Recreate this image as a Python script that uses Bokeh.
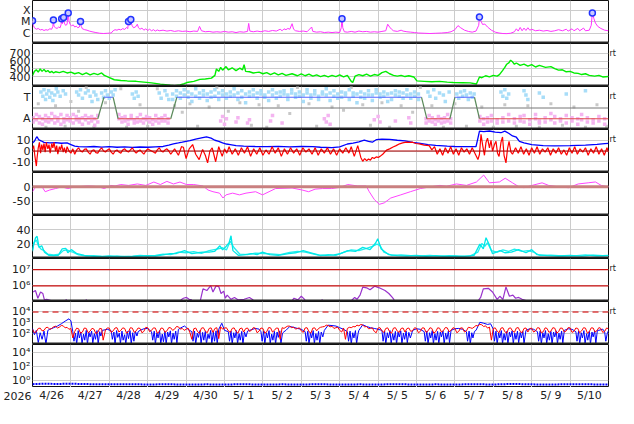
import math
from bokeh.plotting import figure
from bokeh.layouts import column
from bokeh.models import FixedTicker, Span, Range1d, LinearAxis
from bokeh.core.properties import value
from bokeh.embed import file_html
from bokeh.resources import INLINE

nan = float("nan")

DAY_LABELS = ["4/26", "4/27", "4/28", "4/29", "4/30", "5/ 1", "5/ 2", "5/ 3",
              "5/ 4", "5/ 5", "5/ 6", "5/ 7", "5/ 8", "5/ 9", "5/10"]
YEAR_LABEL = "2026"

# ---- panel 1: X-ray flux (day, W/m2) ----
XRAY = [(0.00, 1.3e-5), (0.02, 5e-6), (0.05, 3.0e-6), (0.10, 2.2e-6), (0.15, 2.6e-6), (0.20, 1.9e-6),
        (0.25, 2.1e-6), (0.30, 1.7e-6), (0.35, 2.0e-6), (0.40, 1.8e-6), (0.45, 2.4e-6), (0.50, 2.2e-6),
        (0.53, 4e-6), (0.545, 1.55e-5), (0.56, 4e-6), (0.60, 3.0e-6), (0.64, 2.6e-6), (0.68, 3.5e-6),
        (0.72, 3.0e-6), (0.745, 6e-6), (0.76, 2.0e-5), (0.78, 7e-6), (0.81, 2.5e-5), (0.83, 8e-6),
        (0.86, 5e-6), (0.90, 6e-6), (0.93, 6.7e-5), (0.95, 1.2e-5), (0.98, 6e-6), (1.02, 4.5e-6),
        (1.06, 5.5e-6), (1.10, 3.5e-6), (1.14, 4.2e-6), (1.18, 3.0e-6), (1.22, 3.5e-6), (1.25, 1.1e-5),
        (1.27, 4e-6), (1.30, 2.4e-6), (1.36, 2.0e-6), (1.42, 1.8e-6), (1.48, 1.5e-6), (1.55, 1.3e-6),
        (1.65, 1.1e-6), (1.75, 0.95e-6), (1.85, 0.9e-6), (1.95, 0.95e-6), (2.05, 1.0e-6), (2.10, 1.6e-6),
        (2.15, 2.0e-6), (2.2, 1.8e-6), (2.25, 2.2e-6), (2.3, 1.9e-6), (2.35, 2.5e-6), (2.40, 2.1e-6),
        (2.45, 3.2e-6), (2.48, 2.5e-6), (2.50, 1.1e-5), (2.53, 5e-6), (2.56, 1.65e-5), (2.59, 5e-6),
        (2.63, 3e-6), (2.68, 3.5e-6), (2.73, 6.3e-6), (2.76, 3e-6), (2.80, 2.2e-6), (2.85, 2.8e-6),
        (2.9, 1.8e-6), (2.95, 2.4e-6), (3.0, 1.7e-6), (3.05, 2.2e-6), (3.1, 1.6e-6), (3.15, 2.0e-6),
        (3.2, 1.5e-6), (3.25, 1.9e-6), (3.3, 1.6e-6), (3.4, 1.8e-6), (3.5, 1.5e-6), (3.6, 1.7e-6),
        (3.7, 1.4e-6), (3.8, 1.6e-6), (3.9, 1.4e-6), (4.0, 1.5e-6), (4.1, 1.3e-6), (4.2, 1.5e-6),
        (4.3, 1.4e-6), (4.35, 4.0e-6), (4.40, 1.6e-6), (4.5, 1.3e-6), (4.6, 1.4e-6), (4.7, 1.2e-6),
        (4.8, 1.3e-6), (4.9, 1.2e-6), (5.0, 1.4e-6), (5.1, 1.2e-6), (5.2, 1.3e-6), (5.3, 1.1e-6),
        (5.4, 1.3e-6), (5.5, 1.2e-6), (5.6, 1.4e-6), (5.63, 7.4e-6), (5.66, 1.5e-6), (5.75, 1.3e-6),
        (5.85, 1.5e-6), (5.95, 1.3e-6), (6.05, 1.6e-6), (6.15, 1.4e-6), (6.25, 1.7e-6), (6.35, 1.5e-6),
        (6.45, 2.2e-6), (6.5, 1.6e-6), (6.55, 2.4e-6), (6.6, 2.0e-6), (6.65, 2.6e-6), (6.7, 2.2e-6),
        (6.76, 7e-6), (6.8, 2.2e-6), (6.85, 1.6e-6), (6.95, 1.4e-6), (7.05, 1.5e-6), (7.15, 1.3e-6),
        (7.27, 3.5e-6), (7.3, 1.4e-6), (7.4, 1.2e-6), (7.5, 1.3e-6), (7.6, 1.1e-6), (7.7, 1.2e-6),
        (7.8, 1.1e-6), (7.9, 1.2e-6), (8.0, 1.1e-6), (8.04, 3e-6), (8.06, 2.0e-5), (8.08, 3e-6),
        (8.12, 1.3e-6), (8.2, 1.2e-6), (8.3, 1.4e-6), (8.4, 1.2e-6), (8.5, 1.5e-6), (8.6, 1.3e-6),
        (8.7, 1.4e-6), (8.8, 1.2e-6), (8.9, 1.3e-6), (9.0, 1.2e-6), (9.1, 1.4e-6), (9.2, 1.6e-6),
        (9.25, 6.3e-6), (9.3, 3.5e-6), (9.35, 2.2e-6), (9.4, 1.6e-6), (9.5, 1.4e-6), (9.6, 1.8e-6),
        (9.65, 1.5e-6), (9.75, 1.3e-6), (9.85, 1.2e-6), (9.95, 1.1e-6), (10.05, 1.0e-6), (10.2, 0.95e-6),
        (10.35, 0.9e-6), (10.5, 0.95e-6), (10.65, 1.0e-6), (10.8, 1.1e-6), (10.9, 1.3e-6), (11.0, 2.0e-6),
        (11.08, 4.7e-6), (11.15, 3.0e-6), (11.25, 1.8e-6), (11.35, 1.4e-6), (11.45, 1.2e-6), (11.55, 1.5e-6),
        (11.62, 5e-6), (11.64, 2.8e-5), (11.68, 1.2e-5), (11.72, 6e-6), (11.78, 6.5e-6), (11.85, 3.5e-6),
        (11.95, 1.8e-6), (12.05, 1.2e-6), (12.15, 1.0e-6), (12.25, 0.9e-6), (12.35, 0.88e-6), (12.45, 0.95e-6),
        (12.55, 1.3e-6), (12.6, 2.4e-6), (12.65, 1.5e-6), (12.7, 3.2e-6), (12.75, 1.6e-6), (12.8, 2.8e-6),
        (12.85, 1.7e-6), (12.9, 3.0e-6), (12.95, 1.8e-6), (13.0, 2.2e-6), (13.1, 1.6e-6), (13.2, 1.8e-6),
        (13.3, 1.5e-6), (13.4, 1.7e-6), (13.5, 1.4e-6), (13.6, 1.6e-6), (13.7, 2.0e-6), (13.8, 1.6e-6),
        (13.9, 2.2e-6), (13.95, 1.5e-6), (14.05, 2.4e-6), (14.1, 1.6e-6), (14.2, 2.6e-6), (14.25, 1.6e-6),
        (14.35, 2.8e-6), (14.4, 1.6e-6), (14.5, 1.8e-6), (14.55, 5e-6), (14.58, 6.7e-5), (14.62, 2.0e-5),
        (14.66, 8e-6), (14.72, 4e-6), (14.8, 2.6e-6), (14.9, 1.8e-6), (15.0, 1.6e-6)]
FLARES = [(0.0, 1.3e-5), (0.545, 1.55e-5), (0.76, 2.0e-5), (0.81, 2.5e-5), (0.93, 6.7e-5),
          (1.25, 1.1e-5), (2.50, 1.1e-5), (2.56, 1.65e-5), (8.06, 2.0e-5), (11.64, 2.8e-5), (14.58, 6.7e-5)]

# ---- panel 2: solar wind speed (km/s) ----
WIND = [(0.0, 420), (0.05, 470), (0.1, 490), (0.15, 460), (0.2, 500), (0.25, 470), (0.3, 495), (0.35, 465),
        (0.4, 480), (0.45, 455), (0.5, 470), (0.55, 450), (0.6, 465), (0.7, 455), (0.8, 470), (0.9, 450),
        (1.0, 460), (1.1, 440), (1.2, 455), (1.3, 430), (1.4, 450), (1.5, 425), (1.6, 445), (1.7, 430),
        (1.8, 450), (1.87, 420), (1.96, 400), (2.13, 365), (2.3, 355), (2.47, 350), (2.7, 345), (2.9, 335),
        (3.1, 325), (3.33, 310), (3.59, 295), (3.7, 290), (3.84, 300), (3.95, 315), (4.02, 330), (4.2, 345),
        (4.36, 370), (4.5, 375), (4.66, 385), (4.75, 420), (4.79, 500), (4.85, 470), (4.9, 520), (4.95, 485),
        (5.04, 530), (5.1, 490), (5.2, 515), (5.3, 480), (5.4, 510), (5.47, 490), (5.51, 555), (5.55, 470),
        (5.65, 465), (5.75, 450), (5.9, 460), (6.0, 440), (6.1, 455), (6.2, 430), (6.3, 450), (6.4, 425),
        (6.5, 445), (6.6, 420), (6.76, 440), (6.9, 415), (7.0, 440), (7.1, 415), (7.2, 435), (7.3, 410),
        (7.4, 425), (7.5, 405), (7.6, 420), (7.7, 400), (7.8, 420), (7.9, 405), (8.0, 425), (8.1, 400),
        (8.2, 420), (8.3, 345), (8.34, 330), (8.4, 410), (8.5, 430), (8.6, 415), (8.7, 435), (8.8, 410),
        (8.9, 430), (9.0, 420), (9.1, 455), (9.2, 470), (9.3, 440), (9.4, 420), (9.5, 410), (9.6, 420),
        (9.7, 405), (9.8, 415), (9.93, 400), (10.01, 350), (10.2, 345), (10.4, 340), (10.6, 345), (10.8, 335),
        (10.96, 330), (11.2, 328), (11.4, 325), (11.56, 312), (11.64, 400), (11.7, 390), (11.8, 415),
        (11.9, 400), (12.0, 420), (12.1, 410), (12.16, 430), (12.24, 480), (12.3, 520), (12.35, 560),
        (12.41, 580), (12.45, 610), (12.5, 590), (12.55, 560), (12.6, 575), (12.7, 545), (12.8, 560),
        (12.9, 535), (13.0, 555), (13.1, 525), (13.2, 545), (13.36, 520), (13.5, 530), (13.6, 505),
        (13.7, 485), (13.8, 490), (13.9, 465), (14.0, 470), (14.1, 450), (14.21, 445), (14.3, 430),
        (14.4, 440), (14.5, 420), (14.64, 410), (14.75, 420), (14.85, 400), (15.0, 405)]

# ---- panel 3: IMF sector (T = +1, A = -1) ----
SECTOR_T = [0.0, 1.70, 1.86, 2.10, 2.23, 3.60, 3.76, 10.13, 10.27, 10.87, 11.0, 11.51, 11.64, 15.0]
SECTOR_V = [-1, -1, 1, 1, -1, -1, 1, 1, -1, -1, 1, 1, -1, -1]
SKY_SPARSE = [(0.22, 1.5), (0.27, 1.1), (0.3, 1.7), (0.34, 0.8), (0.37, 1.3), (0.42, 1.6), (0.45, 1.0),
              (0.5, 1.4), (0.53, 0.7), (0.58, 1.2), (0.62, 1.8), (0.66, 1.5), (0.72, 1.1), (0.8, 1.6),
              (0.86, 1.3), (1.15, 1.5), (1.2, 1.2), (1.25, 1.7), (1.3, 0.9), (1.38, 1.4), (1.45, 1.6),
              (1.5, 1.1), (1.55, 0.6), (1.6, 1.5), (1.65, 1.2), (1.7, 0.8), (1.8, 1.4), (1.85, 1.0),
              (1.9, 1.6), (1.95, 1.2), (2.0, 0.9), (2.05, 1.5), (2.1, 1.2), (2.15, 1.7), (2.6, 1.3),
              (2.65, 0.9), (2.7, 1.5), (2.75, 1.1), (3.3, 1.4), (3.35, 0.9), (3.45, 1.6), (3.5, 1.2),
              (3.55, 0.8), (10.3, 1.5), (10.35, 1.1), (10.45, 1.7), (10.5, 0.9), (10.6, 1.4), (10.7, 1.2),
              (10.75, 0.6), (10.85, 1.5), (11.05, 1.3), (11.1, 0.9), (11.15, 1.5), (11.2, 1.1), (11.25, 1.6),
              (11.3, 1.2), (11.35, 0.8), (11.4, 1.4), (11.45, 1.0), (11.5, 1.3), (12.2, 1.5), (12.25, 1.1),
              (12.3, 1.7), (12.35, 0.9), (12.4, 1.3), (12.8, 1.6), (12.85, 1.2), (12.9, 0.8), (13.2, 1.4),
              (13.3, 1.0), (13.9, 1.3), (14.4, 1.6)]
SKY_DENSE = [(3.65, 1.3, 0.8), (3.75, 1.6, 1.1), (3.85, 0.9, 1.4), (3.95, 1.7, 1.2), (4.05, 1.0, 1.5),
             (4.15, 1.3, 0.6), (4.25, 1.8, 1.1), (4.35, 1.4, 0.9), (4.45, 1.2, 1.6), (4.55, 0.7, 1.3),
             (4.65, 1.5, 1.0), (4.75, 1.1, 1.7), (4.85, 1.4, 0.8), (4.95, 1.6, 1.2), (5.05, 0.9, 1.3),
             (5.15, 1.5, 1.1), (5.25, 1.2, 1.8), (5.35, 0.8, 1.4), (5.45, 1.6, 1.0), (5.55, 1.3, 0.5),
             (5.65, 1.1, 1.5), (5.75, 1.7, 1.2), (5.85, 0.9, 1.4), (5.95, 1.3, 1.6), (6.05, 1.0, 1.2),
             (6.15, 1.5, 0.7), (6.25, 1.2, 1.7), (6.35, 1.4, 0.9), (6.45, 1.1, 1.5), (6.55, 1.6, 1.3),
             (6.65, 0.8, 1.2), (6.75, 1.4, 1.7), (6.85, 1.0, 1.3), (6.95, 1.5, 1.1), (7.05, 1.2, 0.6),
             (7.15, 1.7, 1.4), (7.25, 0.9, 1.2), (7.35, 1.3, 1.6), (7.45, 1.1, 0.8), (7.55, 1.5, 1.3),
             (7.65, 1.2, 1.8), (7.75, 0.7, 1.4), (7.85, 1.6, 1.1), (7.95, 1.3, 0.9), (8.05, 1.0, 1.5),
             (8.15, 1.4, 1.2), (8.25, 1.7, 0.8), (8.35, 1.1, 1.4), (8.45, 1.3, 0.5), (8.55, 1.5, 1.0),
             (8.65, 0.9, 1.3), (8.75, 1.6, 1.2), (8.85, 1.2, 0.7), (8.95, 1.4, 1.7), (9.05, 1.0, 1.3),
             (9.15, 1.5, 1.1), (9.25, 1.3, 0.6), (9.35, 0.8, 1.4), (9.45, 1.6, 1.2), (9.55, 1.1, 1.5),
             (9.65, 1.4, 0.9), (9.75, 1.2, 1.7), (9.85, 0.9, 1.3), (9.95, 1.5, 1.1), (10.05, 1.3, 0.8)]
PINK_SPARSE = [(4.9, -1.2), (4.95, -0.8), (5.0, -1.5), (5.05, -1.0), (5.3, -1.3), (5.35, -0.9), (5.6, -1.4),
               (5.65, -1.1), (6.2, -1.2), (6.25, -0.7), (6.5, -1.4), (7.6, -1.0), (7.65, -1.3), (7.7, -0.7),
               (7.75, -1.5), (8.9, -1.1), (9.0, -0.8), (9.05, -1.3), (9.45, -1.2), (9.8, -0.9), (9.85, -1.4)]
PINK_DENSE = [(0.02, -0.9, -1.3), (0.1, -0.6, -1.1), (0.18, -1.4, -0.8), (0.26, -1.0, -1.5), (0.34, -0.7, -1.2),
              (0.42, -1.3, -0.9), (0.5, -1.1, -0.5), (0.58, -1.4, -0.8), (0.66, -0.9, -1.2), (0.74, -1.5, -0.6),
              (0.82, -1.0, -1.3), (0.9, -0.7, -1.1), (0.98, -1.2, -0.9), (1.06, -1.4, -0.6), (1.14, -0.8, -1.1),
              (1.22, -1.3, -1.0), (1.3, -0.9, -1.5), (1.38, -1.1, -0.7), (1.46, -1.4, -0.9), (1.54, -0.8, -1.2),
              (1.62, -1.0, -1.6), (1.7, -1.3, -0.7), (2.25, -1.0, -0.6), (2.33, -1.3, -0.9), (2.41, -0.8, -1.2),
              (2.49, -1.1, -1.5), (2.57, -0.7, -1.0), (2.65, -1.4, -1.1), (2.73, -0.9, -1.3), (2.81, -1.2, -0.6),
              (2.89, -1.0, -1.4), (2.97, -0.8, -1.1), (3.05, -1.3, -0.9), (3.13, -1.1, -1.5), (3.21, -0.7, -1.2),
              (3.29, -1.4, -1.0), (3.37, -0.9, -1.2), (3.45, -1.2, -0.7), (3.53, -1.0, -1.4),
              (10.25, -1.0, -1.4), (10.33, -0.7, -1.2), (10.41, -1.3, -0.9), (10.49, -1.1, -1.5),
              (10.57, -0.8, -1.2), (10.65, -1.4, -1.0), (10.73, -0.9, -1.3), (10.81, -1.2, -0.6),
              (10.89, -1.0, -1.4), (11.65, -1.2, -0.8), (11.75, -1.0, -1.5), (11.85, -1.3, -0.9),
              (11.95, -0.7, -1.2), (12.1, -1.1, -1.4), (12.25, -0.9, -1.3), (12.4, -1.2, -0.6),
              (12.55, -1.0, -1.4), (12.7, -0.8, -1.2), (12.8, -1.3, -0.7), (12.95, -1.1, -1.5),
              (13.1, -0.6, -1.0), (13.2, -1.2, -1.4), (13.35, -0.9, -1.3), (13.5, -1.1, -0.5),
              (13.6, -1.4, -0.8), (13.75, -1.0, -1.2), (13.9, -0.7, -1.4), (14.05, -1.2, -0.9),
              (14.2, -1.0, -1.5), (14.3, -0.6, -1.1), (14.45, -1.3, -0.9), (14.6, -1.1, -1.4),
              (14.75, -0.8, -1.2), (14.9, -1.0, -1.5)]
GREY_DOTS = [(0.15, 0.4), (0.35, -1.8), (0.6, 0.2), (0.85, -1.7), (1.0, 0.6), (1.2, -0.3), (1.4, 1.9),
             (1.6, -1.8), (1.9, 0.5), (2.3, 1.8), (2.45, -1.8), (2.8, 0.3), (3.0, -1.7), (3.25, 1.8),
             (3.7, 0.2), (3.9, -0.4), (4.1, 0.4), (4.3, -1.7), (4.6, 0.1), (4.8, 1.9), (5.1, -0.3),
             (5.4, 0.5), (5.7, -1.6), (5.9, 0.3), (6.1, -1.8), (6.4, 0.2), (6.7, -0.5), (6.9, 1.9),
             (7.2, 0.4), (7.4, -1.7), (7.8, 0.1), (8.1, -0.2), (8.3, 1.9), (8.6, 0.3), (8.8, -1.6),
             (9.1, 0.5), (9.3, -1.8), (9.6, 0.2), (9.9, -0.4), (10.1, 1.9), (10.4, 0.2), (10.7, -1.8),
             (11.0, 0.4), (11.3, -1.7), (11.7, 0.1), (12.0, -1.8), (12.3, 0.3), (12.6, -1.7), (12.9, 0.2),
             (13.2, -1.8), (13.5, 0.4), (13.8, -1.6), (14.1, 0.1), (14.4, -1.8), (14.7, 0.3), (14.95, -1.7)]

# ---- panel 4: IMF Bt / Bz (nT) ----
BT = [(0.0, 7.5), (0.05, 9), (0.1, 12.5), (0.12, 13.2), (0.16, 10.5), (0.22, 9.5), (0.3, 8), (0.45, 7.5),
      (0.6, 7.8), (0.75, 7.2), (0.9, 7.5), (1.0, 6), (1.1, 4.5), (1.2, 4), (1.4, 3.8), (1.6, 4.2), (1.8, 3.6),
      (2.0, 4), (2.2, 3.5), (2.4, 3.8), (2.6, 3.4), (2.8, 3.7), (3.0, 3.5), (3.2, 3.9), (3.4, 4.2),
      (3.55, 5.5), (3.67, 6.7), (3.8, 7.5), (3.9, 8.2), (4.0, 9), (4.1, 9.7), (4.25, 11), (4.4, 12.2),
      (4.53, 13.2), (4.65, 12), (4.75, 10), (4.85, 9), (4.95, 7.5), (5.05, 6.5), (5.15, 6), (5.3, 5),
      (5.5, 4.5), (5.8, 4.2), (6.1, 4), (6.4, 4.3), (6.7, 3.9), (7.0, 4.2), (7.3, 4.0), (7.5, 3.5),
      (7.8, 3.2), (8.0, 3.8), (8.2, 6.5), (8.35, 7.3), (8.5, 8.5), (8.64, 10.2), (8.75, 9), (8.85, 8.2),
      (8.95, 10.5), (9.1, 11), (9.3, 10.8), (9.5, 10), (9.7, 9.5), (9.9, 8), (10.1, 7), (10.3, 6),
      (10.5, 5.2), (10.8, 4.5), (11.0, 4.2), (11.3, 4), (11.55, 4.2), (11.6, 12), (11.64, 18.5),
      (11.75, 18), (11.9, 18.6), (12.05, 17.5), (12.2, 17), (12.3, 18.5), (12.4, 16.5), (12.5, 14),
      (12.6, 12.8), (12.68, 9), (12.8, 7.5), (13.0, 6), (13.3, 5), (13.6, 4.8), (14.0, 5), (14.4, 5.5),
      (14.7, 6.2), (14.9, 6.8), (15.0, 7)]
BZ = [(0.0, 2), (0.03, 5), (0.06, -4), (0.1, -14), (0.12, -6), (0.15, 3), (0.18, 8), (0.21, -2), (0.24, 6),
      (0.27, 1), (0.3, 7), (0.33, -1), (0.36, 8), (0.4, 2), (0.43, 6), (0.46, -2), (0.5, 7), (0.53, 3),
      (0.56, 8), (0.6, 0), (0.63, 5), (0.66, -3), (0.7, 4), (0.73, 1), (0.76, 6), (0.8, -1), (0.83, 3),
      (0.87, -2), (0.9, 4), (0.95, 0), (1.0, -2), (1.05, 2), (1.1, -3), (1.15, 1), (1.2, 3), (1.25, 0),
      (1.3, -1), (1.35, 1.5), (1.4, 2), (1.45, -1), (1.5, -3), (1.55, 0.5), (1.6, 1), (1.65, -1.5),
      (1.7, -2), (1.75, 1), (1.8, 3), (1.85, 0), (1.9, -1), (1.95, 1), (2.0, 2), (2.05, -1), (2.1, -3),
      (2.15, 0), (2.2, 1), (2.25, -1), (2.3, -2), (2.35, 1), (2.4, 2), (2.45, 0), (2.5, -1), (2.55, 1),
      (2.6, 3), (2.65, 0), (2.7, -2), (2.75, 0), (2.8, 1), (2.85, -1), (2.9, -3), (2.95, 0), (3.0, 2),
      (3.05, 1), (3.1, 0), (3.15, -1), (3.2, -2), (3.25, 1), (3.3, 3), (3.35, 0), (3.4, -1), (3.45, 1),
      (3.5, 2), (3.55, 0), (3.6, -3), (3.7, 2), (3.8, -4), (3.88, 4), (3.93, 3.5),
      (4.0, -7), (4.08, 2), (4.17, 6), (4.25, -3), (4.34, -8), (4.43, 1.5), (4.5, -4), (4.56, -11),
      (4.62, 0), (4.68, 3), (4.77, -10), (4.85, 4), (4.94, -5), (5.0, 2), (5.06, -2), (5.12, 4), (5.2, -3),
      (5.28, 2), (5.36, -4), (5.44, 3), (5.52, -2), (5.6, 4), (5.68, -5), (5.76, 2), (5.84, -3), (5.92, 3),
      (6.0, -4), (6.08, 1), (6.16, -3), (6.24, 4), (6.32, -2), (6.4, 3), (6.48, -5), (6.56, 2), (6.64, -3),
      (6.72, 3), (6.8, -2), (6.88, 2), (6.96, -4), (7.04, 3), (7.12, -1), (7.2, 2), (7.28, -3), (7.36, 3),
      (7.44, -4), (7.52, 2), (7.6, -2), (7.68, 3), (7.76, -3), (7.84, 2), (7.92, -4), (8.0, 2), (8.08, -2),
      (8.16, 3), (8.24, -2), (8.3, 4), (8.38, -5), (8.47, 5), (8.55, -6), (8.6, -9.6), (8.65, -7),
      (8.7, -9), (8.75, -7.5), (8.8, -8.5), (8.85, -6), (8.9, -7), (8.95, -5.5), (9.0, -6), (9.05, -5),
      (9.12, -3), (9.22, 0.8), (9.3, 2), (9.39, 3.7), (9.47, 5), (9.56, 6.7), (9.64, 7.5), (9.73, 8.2),
      (9.82, 8), (9.9, 8.2), (9.98, 7), (10.07, 6.7), (10.2, 5.5), (10.33, 5), (10.4, 1), (10.47, 4),
      (10.54, -3), (10.61, 2), (10.68, -4), (10.75, 3), (10.82, -2), (10.89, 4), (10.96, -3), (11.03, 2),
      (11.1, -4), (11.17, 3), (11.24, -1), (11.31, 2), (11.38, -3), (11.45, 3), (11.52, -2), (11.6, -8),
      (11.64, -3), (11.68, 15.6), (11.72, 6), (11.77, -4), (11.81, 8), (11.85, 12), (11.9, 3), (11.94, 10),
      (11.98, 0), (12.03, 6), (12.07, 9), (12.11, -2), (12.15, -5), (12.2, 8), (12.24, 13), (12.28, -4),
      (12.33, -11), (12.37, 2), (12.41, 9), (12.46, -1), (12.5, -3), (12.58, 3), (12.65, -2), (12.72, 4),
      (12.79, -3), (12.86, 2), (12.93, -4), (13.0, 3), (13.07, -2), (13.14, 4), (13.21, -3), (13.28, 2),
      (13.35, -1), (13.42, 3), (13.49, -4), (13.56, 2), (13.63, -2), (13.7, 3), (13.77, -3), (13.84, 1),
      (13.91, -4), (13.98, 3), (14.05, -2), (14.12, 4), (14.19, -3), (14.26, 2), (14.33, -1), (14.4, 3),
      (14.47, -4), (14.54, 2), (14.61, -2), (14.68, 4), (14.75, -3), (14.82, 2), (14.89, -4), (14.96, 3),
      (15.0, -1)]

# ---- panel 5: Dst (nT) ----
DST = [(0.0, -17), (0.05, -6), (0.1, 0), (0.17, -3), (0.24, 2), (0.33, -17), (0.45, -11), (0.6, -6),
       (0.76, 0), (0.92, -6), (1.1, 0), (1.25, 1), (1.44, 3), (1.6, 2), (1.72, 0), (1.87, -6), (2.04, 5),
       (2.15, 3), (2.3, 8), (2.5, 5), (2.73, 10), (2.95, 5), (3.16, 16.7), (3.33, 8), (3.5, 19), (3.67, 10),
       (3.84, 16.7), (4.01, 8), (4.2, 8), (4.44, 3), (4.57, -11), (4.7, -17), (4.87, -22), (4.96, -39),
       (5.04, -28), (5.21, -22), (5.39, -28), (5.56, -22), (5.81, -17), (5.99, -28), (6.16, -17),
       (6.33, -6), (6.55, -5), (6.76, -4), (7.02, -11), (7.19, -17), (7.36, -8), (7.55, -6), (7.79, -6),
       (8.0, -2), (8.21, 8), (8.47, 3), (8.69, 3), (8.77, -17), (8.9, -44), (9.03, -61), (9.16, -56),
       (9.33, -39), (9.59, -28), (9.84, -17), (10.1, -6), (10.36, 0), (10.61, 5), (10.78, 2), (11.04, 10),
       (11.3, 5), (11.56, 16.7), (11.75, 41), (11.9, 14), (12.16, 17), (12.31, 30), (12.5, 14), (12.67, 0),
       (12.8, -3), (13.01, 5), (13.27, 14), (13.44, 5), (13.7, 0), (13.96, -3), (14.21, 10), (14.47, 14),
       (14.66, 17), (14.81, 5), (14.98, 0), (15.0, 0)]

# ---- panel 6: proton density (/cc), two traces ----
DEN1 = [(0.0, 12), (0.02, 17.8), (0.08, 29), (0.12, 31), (0.17, 15.6), (0.24, 17.8), (0.31, 8.9),
        (0.43, 4.4), (0.55, 4), (0.67, 4.4), (0.77, 13.3), (0.87, 14), (0.92, 8), (1.01, 12.4), (1.16, 6.7),
        (1.35, 4.4), (1.6, 3), (1.8, 2.5), (2.0, 3.5), (2.2, 2.2), (2.4, 3), (2.6, 2.5), (2.8, 3.5), (3.0, 4),
        (3.2, 3.5), (3.4, 5), (3.58, 6.7), (3.75, 7), (3.96, 11), (4.15, 6.7), (4.3, 8), (4.44, 8.9),
        (4.6, 9), (4.74, 9.8), (4.88, 17.8), (4.95, 12), (5.02, 15.6), (5.12, 22), (5.17, 31.8), (5.22, 11),
        (5.36, 4.4), (5.5, 5), (5.7, 6.7), (5.85, 5.5), (5.99, 8.9), (6.18, 5.3), (6.4, 4.4), (6.67, 6.7),
        (6.85, 8), (7.05, 11), (7.25, 8), (7.45, 5), (7.64, 4.4), (7.85, 5), (8.02, 6.7), (8.21, 11),
        (8.41, 9.8), (8.6, 15.6), (8.79, 12.4), (8.94, 22), (8.99, 27.5), (9.08, 13.3), (9.28, 5.3),
        (9.5, 4), (9.75, 3.5), (10.0, 4.5), (10.25, 3), (10.5, 4), (10.75, 2.8), (11.0, 3.5), (11.25, 3),
        (11.5, 4.4), (11.65, 20), (11.74, 13.3), (11.81, 29), (11.89, 20), (11.98, 6.7), (12.18, 11),
        (12.3, 8), (12.47, 8.9), (12.66, 12.4), (12.85, 8), (13.0, 12.4), (13.14, 5.3), (13.4, 4),
        (13.7, 3.5), (14.0, 4.5), (14.3, 3.2), (14.6, 4.8), (14.85, 4), (15.0, 4.5)]
DEN2 = [(0.0, 10), (0.04, 22), (0.1, 26), (0.15, 18), (0.22, 13), (0.3, 11), (0.4, 6), (0.55, 5), (0.7, 6),
        (0.8, 11), (0.9, 12), (0.97, 10), (1.05, 9), (1.2, 5), (1.4, 3.5), (1.6, 4), (1.8, 3.2), (2.0, 2.8),
        (2.2, 3.5), (2.4, 2.5), (2.6, 3.2), (2.8, 4.2), (3.0, 3.5), (3.2, 4.5), (3.4, 6), (3.6, 5.5),
        (3.8, 9), (4.0, 8), (4.2, 9.5), (4.4, 7), (4.6, 11), (4.8, 13), (4.95, 15), (5.05, 12), (5.15, 24),
        (5.25, 15), (5.4, 6), (5.6, 5.5), (5.8, 7.5), (6.0, 7), (6.2, 6.5), (6.45, 5.5), (6.7, 8.5),
        (6.9, 10), (7.1, 9), (7.3, 6.5), (7.5, 4), (7.7, 5.5), (7.9, 4.5), (8.1, 8.5), (8.3, 12), (8.5, 11),
        (8.7, 14), (8.85, 17), (8.97, 20), (9.05, 18), (9.15, 9), (9.35, 4.5), (9.6, 5), (9.85, 4),
        (10.1, 3.5), (10.35, 4.2), (10.6, 3.2), (10.85, 4), (11.1, 3), (11.4, 3.8), (11.6, 9), (11.7, 21),
        (11.78, 17), (11.85, 22), (11.95, 11), (12.1, 9), (12.25, 12), (12.4, 10), (12.55, 13),
        (12.75, 10), (12.9, 11), (13.05, 9), (13.2, 4.5), (13.5, 4.8), (13.8, 3.5), (14.1, 3.8), (14.4, 5),
        (14.7, 3.5), (15.0, 4)]

# ---- panel 7: electron flux (gaps = no data) ----
ELEC = [(0.018, 4.2e5), (0.076, 5.2e5), (0.14, 1.74e5), (0.21, 4.2e5), (0.27, 3.4e5), (0.31, 1.38e5),
        (0.37, 1.5e5), (0.48, 1.26e5), (nan, nan), (0.85, 1.3e5), (0.9, 1.38e5), (nan, nan),
        (1.38, 1.3e5), (1.42, 1.38e5), (nan, nan), (3.86, 1.38e5), (3.93, 1.74e5), (4.01, 1.95e5),
        (4.08, 1.5e5), (4.15, 1.38e5), (nan, nan), (4.37, 1.26e5), (4.44, 6.6e5), (4.54, 5.2e5),
        (4.64, 1.05e6), (4.7, 4.2e5), (4.78, 1.0e6), (4.85, 9.1e5), (4.91, 3.4e5), (4.98, 4.8e5),
        (5.02, 1.74e5), (5.07, 2.7e5), (5.17, 1.5e5), (5.26, 1.95e5), (5.36, 1.38e5), (5.51, 1.5e5),
        (5.65, 1.95e5), (5.75, 1.38e5), (nan, nan), (6.76, 1.26e5), (6.81, 1.74e5), (6.91, 1.38e5),
        (7.0, 2.3e5), (7.1, 1.38e5), (nan, nan), (7.52, 1.3e5), (7.56, 1.38e5), (nan, nan),
        (8.31, 1.26e5), (8.39, 1.95e5), (8.45, 1.5e5), (8.53, 2.7e5), (8.6, 8.3e5), (8.7, 7.6e5),
        (8.79, 5.8e5), (8.91, 9.6e5), (9.03, 7.6e5), (9.18, 5.2e5), (9.28, 3.4e5), (9.37, 1.95e5),
        (9.42, 1.38e5), (nan, nan), (11.61, 1.26e5), (11.67, 1.95e5), (11.74, 6.6e5), (11.87, 7.1e5),
        (11.98, 4.2e5), (12.1, 1.5e5), (12.17, 2.3e5), (12.25, 1.5e5), (12.33, 8.6e5), (12.42, 2.3e5),
        (12.51, 2.7e5), (12.58, 1.74e5), (12.66, 1.95e5), (12.75, 1.5e5), (12.85, 1.26e5), (nan, nan),
        (14.85, 1.26e5), (14.9, 1.3e5)]

# ---- panel 8: particle flux, two channels ----
P8_RED = [(0.0, 250), (0.05, 120), (0.1, 150), (0.15, 300), (0.2, 320), (0.25, 180), (0.3, 200), (0.35, 360),
          (0.4, 380), (0.45, 250), (0.5, 300), (0.55, 420), (0.6, 480), (0.65, 330), (0.7, 400), (0.75, 560),
          (0.8, 520), (0.85, 340), (0.9, 380), (0.95, 250), (1.0, 300), (1.05, 40), (1.1, 160), (1.15, 320),
          (1.2, 280), (1.25, 110), (1.3, 140), (1.35, 330), (1.4, 300), (1.45, 120), (1.5, 170), (1.55, 310),
          (1.6, 260), (1.65, 100), (1.7, 130), (1.75, 300), (1.8, 280), (1.84, 25), (1.9, 220), (1.95, 340),
          (2.0, 320), (2.05, 130), (2.1, 180), (2.15, 330), (2.2, 350), (2.25, 140), (2.3, 200), (2.35, 340),
          (2.4, 300), (2.45, 110), (2.5, 150), (2.55, 350), (2.6, 320), (2.65, 130), (2.7, 180), (2.75, 330),
          (2.8, 300), (2.85, 120), (2.9, 160), (2.95, 380), (3.0, 350), (3.05, 150), (3.1, 200), (3.15, 340),
          (3.2, 320), (3.25, 110), (3.3, 150), (3.35, 330), (3.4, 300), (3.45, 130), (3.5, 180), (3.55, 360),
          (3.6, 340), (3.65, 200), (3.7, 260), (3.75, 450), (3.8, 420), (3.85, 260), (3.9, 300), (3.95, 200),
          (4.0, 250), (4.05, 330), (4.1, 120), (4.15, 30), (4.2, 280), (4.25, 330), (4.3, 150), (4.35, 110),
          (4.4, 320), (4.45, 350), (4.5, 170), (4.55, 120), (4.6, 300), (4.65, 340), (4.7, 130), (4.75, 300),
          (4.8, 350), (4.85, 35), (4.9, 420), (4.95, 260), (5.0, 320), (5.05, 350), (5.1, 180), (5.15, 130),
          (5.2, 300), (5.25, 340), (5.3, 160), (5.35, 110), (5.4, 280), (5.45, 330), (5.5, 140), (5.55, 290),
          (5.6, 330), (5.65, 160), (5.7, 200), (5.75, 360), (5.8, 320), (5.85, 120), (5.9, 170), (5.95, 330),
          (6.0, 300), (6.05, 110), (6.1, 150), (6.15, 360), (6.2, 340), (6.25, 140), (6.3, 200), (6.35, 330),
          (6.4, 310), (6.45, 30), (6.5, 350), (6.55, 300), (6.6, 400), (6.65, 500), (6.7, 480), (6.75, 350),
          (6.8, 400), (6.85, 260), (6.9, 300), (6.95, 340), (7.0, 180), (7.05, 130), (7.1, 330), (7.15, 350),
          (7.2, 150), (7.25, 110), (7.3, 320), (7.35, 340), (7.4, 180), (7.45, 300), (7.5, 380), (7.55, 420),
          (7.6, 450), (7.65, 600), (7.7, 560), (7.75, 420), (7.8, 480), (7.85, 300), (7.9, 350), (7.95, 380),
          (8.0, 200), (8.05, 140), (8.1, 330), (8.15, 30), (8.2, 300), (8.25, 380), (8.3, 350), (8.35, 450),
          (8.4, 420), (8.45, 600), (8.5, 520), (8.55, 700), (8.6, 620), (8.65, 420), (8.7, 450), (8.75, 280),
          (8.8, 300), (8.85, 340), (8.9, 160), (8.95, 120), (9.0, 330), (9.05, 350), (9.1, 180), (9.15, 130),
          (9.2, 300), (9.25, 340), (9.3, 150), (9.35, 110), (9.4, 320), (9.45, 350), (9.5, 170), (9.55, 130),
          (9.6, 300), (9.65, 330), (9.7, 140), (9.75, 290), (9.8, 330), (9.85, 160), (9.9, 190), (9.95, 350),
          (10.0, 310), (10.05, 120), (10.1, 160), (10.15, 340), (10.2, 330), (10.25, 130), (10.3, 180),
          (10.35, 350), (10.4, 300), (10.45, 110), (10.5, 150), (10.55, 340), (10.6, 320), (10.65, 140),
          (10.7, 190), (10.75, 360), (10.8, 340), (10.85, 150), (10.9, 200), (10.95, 350), (11.0, 300),
          (11.05, 120), (11.1, 160), (11.15, 340), (11.2, 330), (11.25, 140), (11.3, 180), (11.35, 380),
          (11.4, 350), (11.45, 300), (11.5, 400), (11.55, 560), (11.6, 500), (11.65, 720), (11.7, 650),
          (11.75, 450), (11.8, 520), (11.85, 320), (11.9, 400), (11.95, 25), (12.0, 300), (12.05, 340),
          (12.1, 170), (12.15, 120), (12.2, 320), (12.25, 350), (12.3, 150), (12.35, 110), (12.4, 300),
          (12.45, 340), (12.5, 180), (12.55, 130), (12.6, 330), (12.65, 360), (12.7, 160), (12.75, 120),
          (12.8, 300), (12.85, 330), (12.9, 140), (12.95, 290), (13.0, 320), (13.05, 140), (13.1, 180),
          (13.15, 350), (13.2, 330), (13.25, 120), (13.3, 150), (13.35, 340), (13.4, 300), (13.45, 130),
          (13.5, 170), (13.55, 350), (13.6, 320), (13.65, 110), (13.7, 150), (13.75, 330), (13.8, 310),
          (13.85, 140), (13.9, 180), (13.95, 360), (14.0, 340), (14.05, 130), (14.1, 160), (14.15, 330),
          (14.2, 300), (14.25, 120), (14.3, 180), (14.35, 350), (14.4, 320), (14.45, 110), (14.5, 150),
          (14.55, 340), (14.6, 330), (14.65, 140), (14.7, 190), (14.75, 360), (14.8, 300), (14.85, 130),
          (14.9, 160), (14.95, 330), (15.0, 280)]
P8_BLUE = [(0.0, 300), (0.05, 80), (0.1, 200), (0.15, 15), (0.2, 120), (0.25, 30), (0.3, 170), (0.35, 11),
           (0.4, 200), (0.45, 250), (0.55, 350), (0.65, 500), (0.75, 800), (0.85, 1400), (0.95, 2300),
           (1.0, 1500), (1.05, 150), (1.08, 20), (1.12, 110), (1.15, 11), (1.19, 190), (1.22, 40), (1.26, 140),
           (1.29, 12), (1.33, 90), (1.36, 25), (1.4, 200), (1.43, 11), (1.47, 130), (1.5, 50), (1.54, 170),
           (1.57, 14), (1.61, 100), (1.64, 30), (1.68, 190), (1.71, 11), (1.75, 150), (1.78, 60), (1.82, 200),
           (1.95, 250), (2.05, 180), (2.08, 30), (2.12, 140), (2.15, 11), (2.19, 190), (2.22, 45), (2.26, 110),
           (2.29, 12), (2.33, 170), (2.36, 25), (2.4, 80), (2.43, 11), (2.47, 160), (2.5, 35), (2.54, 190),
           (2.57, 12), (2.61, 120), (2.64, 20), (2.68, 170), (2.72, 60), (2.75, 150), (2.8, 200), (2.9, 280),
           (3.0, 300), (3.1, 150), (3.13, 25), (3.17, 170), (3.2, 11), (3.24, 120), (3.27, 40), (3.31, 190),
           (3.34, 12), (3.38, 90), (3.41, 18), (3.45, 160), (3.48, 11), (3.52, 140), (3.55, 50), (3.59, 180),
           (3.62, 12), (3.66, 110), (3.69, 30), (3.73, 170), (3.76, 14), (3.8, 250), (3.9, 400), (3.96, 500),
           (4.05, 250), (4.15, 150), (4.18, 20), (4.22, 170), (4.25, 11), (4.29, 110), (4.32, 45), (4.36, 190),
           (4.39, 12), (4.43, 130), (4.46, 25), (4.5, 160), (4.53, 11), (4.57, 90), (4.6, 35), (4.64, 200),
           (4.67, 12), (4.71, 140), (4.74, 20), (4.78, 180), (4.81, 11), (4.85, 250), (4.93, 900), (5.0, 200),
           (5.1, 150), (5.13, 20), (5.17, 170), (5.2, 11), (5.24, 120), (5.27, 40), (5.31, 190), (5.34, 12),
           (5.38, 100), (5.41, 25), (5.45, 160), (5.48, 11), (5.52, 140), (5.56, 50), (5.6, 170), (5.65, 200),
           (5.8, 300), (5.9, 260), (5.95, 150), (5.98, 20), (6.02, 170), (6.05, 11), (6.09, 120), (6.12, 40),
           (6.16, 190), (6.19, 12), (6.23, 90), (6.26, 25), (6.3, 160), (6.33, 11), (6.37, 140), (6.4, 45),
           (6.44, 180), (6.47, 12), (6.51, 110), (6.55, 150), (6.6, 200), (6.7, 450), (6.8, 380), (6.9, 300),
           (7.0, 250), (7.1, 150), (7.13, 20), (7.17, 170), (7.2, 11), (7.24, 120), (7.27, 40), (7.31, 190),
           (7.34, 12), (7.38, 100), (7.41, 25), (7.45, 160), (7.48, 11), (7.52, 140), (7.56, 50), (7.6, 200),
           (7.7, 600), (7.8, 550), (7.9, 500), (8.0, 350), (8.1, 250), (8.2, 150), (8.23, 20), (8.27, 170),
           (8.3, 11), (8.34, 120), (8.37, 40), (8.41, 190), (8.44, 12), (8.48, 110), (8.5, 200), (8.6, 650),
           (8.7, 450), (8.8, 350), (8.9, 300), (9.0, 250), (9.1, 200), (9.13, 20), (9.17, 170), (9.2, 11),
           (9.24, 120), (9.27, 40), (9.31, 190), (9.34, 12), (9.38, 100), (9.41, 25), (9.45, 160), (9.48, 11),
           (9.52, 140), (9.55, 50), (9.59, 180), (9.62, 12), (9.66, 110), (9.69, 30), (9.73, 170), (9.76, 14),
           (9.8, 130), (9.84, 40), (9.9, 200), (10.0, 280), (10.1, 250), (10.2, 150), (10.23, 20),
           (10.27, 170), (10.3, 11), (10.34, 120), (10.37, 40), (10.41, 190), (10.44, 12), (10.48, 100),
           (10.51, 25), (10.55, 160), (10.58, 11), (10.62, 140), (10.65, 50), (10.69, 180), (10.72, 12),
           (10.76, 110), (10.79, 30), (10.83, 170), (10.86, 14), (10.9, 200), (11.0, 280), (11.1, 300),
           (11.2, 250), (11.3, 150), (11.33, 20), (11.37, 170), (11.4, 11), (11.44, 120), (11.47, 40),
           (11.51, 160), (11.55, 200), (11.65, 1100), (11.75, 900), (11.85, 700), (11.93, 800), (12.0, 250),
           (12.03, 20), (12.07, 170), (12.1, 11), (12.14, 120), (12.17, 40), (12.21, 190), (12.24, 12),
           (12.28, 100), (12.31, 25), (12.35, 160), (12.38, 11), (12.42, 140), (12.45, 50), (12.49, 180),
           (12.52, 12), (12.56, 110), (12.59, 30), (12.63, 170), (12.66, 14), (12.7, 130), (12.73, 40),
           (12.77, 160), (12.8, 12), (12.85, 200), (12.95, 280), (13.05, 250), (13.15, 150), (13.18, 20),
           (13.22, 170), (13.25, 11), (13.29, 120), (13.32, 40), (13.36, 190), (13.39, 12), (13.43, 100),
           (13.46, 25), (13.5, 160), (13.53, 11), (13.57, 140), (13.6, 50), (13.64, 180), (13.67, 12),
           (13.71, 110), (13.74, 30), (13.78, 170), (13.81, 14), (13.85, 200), (13.95, 280), (14.05, 250),
           (14.15, 150), (14.18, 20), (14.22, 170), (14.25, 11), (14.29, 120), (14.32, 40), (14.36, 190),
           (14.39, 12), (14.43, 100), (14.46, 25), (14.5, 160), (14.53, 11), (14.57, 140), (14.6, 50),
           (14.64, 180), (14.67, 12), (14.71, 200), (14.75, 200), (14.85, 260), (14.9, 150), (14.93, 20),
           (14.97, 120), (15.0, 180)]

# ---- panel 9: low-level flux ----
P9_BLUE = [(0.0, 0.30), (0.3, 0.35), (0.6, 0.32), (1.0, 0.34), (1.5, 0.30), (2.0, 0.28), (2.5, 0.30),
           (3.0, 0.27), (3.5, 0.29), (4.0, 0.26), (4.5, 0.28), (5.0, 0.27), (5.5, 0.29), (6.0, 0.26),
           (6.5, 0.28), (7.0, 0.27), (7.5, 0.29), (8.0, 0.26), (8.5, 0.28), (9.0, 0.27), (9.5, 0.30),
           (10.0, 0.26), (10.5, 0.28), (11.0, 0.27), (11.5, 0.29), (12.0, 0.27), (12.5, 0.32), (13.0, 0.28),
           (13.5, 0.27), (14.0, 0.29), (14.5, 0.28), (15.0, 0.27)]


def xs(a):
    return [p[0] for p in a]


def ys(a):
    return [p[1] for p in a]


FONT = "DejaVu Sans"
W = 618
LB, RB = 29, 9
FH = 43
XR = Range1d(0, 15)


def style_axis(ax, size="11px", standoff=2):
    ax.axis_line_color = None
    ax.major_tick_line_color = None
    ax.minor_tick_line_color = None
    ax.major_tick_out = 0
    ax.major_tick_in = 0
    ax.minor_tick_out = 0
    ax.minor_tick_in = 0
    ax.major_label_text_font = FONT
    ax.major_label_text_font_size = size
    ax.major_label_text_color = "#222222"
    ax.major_label_standoff = standoff


def base_fig(yr, log, h):
    return figure(width=W, height=h, x_range=XR, y_range=Range1d(*yr),
                  y_axis_type="log" if log else "linear", x_axis_location=None,
                  output_backend="svg", toolbar_location=None, sizing_mode="fixed",
                  min_border_left=LB, min_border_right=RB, min_border_top=0, min_border_bottom=0)


def panel(yr, ticks, labels, grid, log=False, last=False, rt=False):
    p = base_fig(yr, log, FH)
    p.outline_line_color = "#111111"
    p.outline_line_width = 1
    ax = p.yaxis[0]
    ax.ticker = FixedTicker(ticks=ticks)
    ax.major_label_overrides = dict(zip(ticks, labels))
    style_axis(ax)
    p.ygrid.ticker = FixedTicker(ticks=grid)
    p.ygrid.grid_line_color = "#cccccc"
    p.xgrid.ticker = FixedTicker(ticks=list(range(1, 15)))
    p.xgrid.grid_line_color = "#cccccc"
    if not last:
        p.add_layout(Span(location=yr[0], dimension="width", line_color="#222222", line_width=4))
    if rt:
        lo, hi = yr
        if log:
            v = 10 ** (math.log10(hi) - 10.0 / FH * (math.log10(hi) - math.log10(lo)))
        else:
            v = hi - 10.0 / FH * (hi - lo)
        ra = LinearAxis(ticker=FixedTicker(ticks=[v]), major_label_overrides={v: "rt"})
        style_axis(ra, "8px", 1)
        p.add_layout(ra, "right")
    return p


# panel 1
p1 = panel((1.12e-7, 8.9e-4), [1e-6, 1e-5, 1e-4], ["C", "M", "X"], [1e-6, 1e-5, 1e-4], log=True)
p1.line(xs(XRAY), ys(XRAY), line_color="#ff33ff", line_width=1)
p1.scatter(xs(FLARES), ys(FLARES), marker="circle", size=6, line_color="#2233ff",
           fill_color="#c8c8ff", line_width=1.5)

# panel 2
p2 = panel((280, 820), [400, 500, 600, 700], ["400", "500", "600", "700"], [400, 500, 600, 700], rt=True)
p2.line(xs(WIND), ys(WIND), line_color="#00ee00", line_width=1.4)

# panel 3
p3 = panel((-2, 2), [-1, 1], ["A", "T"], [], rt=True)
p3.add_layout(Span(location=0, dimension="width", line_color="#777777", line_width=1))
p3.scatter(xs(GREY_DOTS), ys(GREY_DOTS), marker="square", size=3, fill_color="#c8c8c8", line_color=None)
sky_t = xs(SKY_SPARSE) + [d[0] for d in SKY_DENSE] + [d[0] for d in SKY_DENSE]
sky_v = ys(SKY_SPARSE) + [d[1] for d in SKY_DENSE] + [d[2] for d in SKY_DENSE]
p3.scatter(sky_t, sky_v, marker="square", size=3.5, fill_color="#a8ddf8", line_color=None)
pk_t = xs(PINK_SPARSE) + [d[0] for d in PINK_DENSE] + [d[0] for d in PINK_DENSE]
pk_v = ys(PINK_SPARSE) + [d[1] for d in PINK_DENSE] + [d[2] for d in PINK_DENSE]
p3.scatter(pk_t, pk_v, marker="square", size=3.5, fill_color="#f4b4f0", line_color=None)
seg_col = []
for a, b in zip(SECTOR_V[:-1], SECTOR_V[1:]):
    seg_col.append("#e04848" if (a < 0 and b < 0) else ("#5566ff" if (a > 0 and b > 0) else "#5a8a5a"))
p3.segment(x0=SECTOR_T[:-1], y0=SECTOR_V[:-1], x1=SECTOR_T[1:], y1=SECTOR_V[1:],
           line_color=seg_col, line_width=1.2)

# panel 4
p4 = panel((-20, 20), [-10, 0, 10], ["-10", "0", "10"], [-10, 0, 10], rt=True)
p4.add_layout(Span(location=0, dimension="width", line_color="#b00000", line_width=1))
p4.line(xs(BT), ys(BT), line_color="#0000ff", line_width=1.3)
p4.line(xs(BZ), ys(BZ), line_color="#ff0000", line_width=1.2)

# panel 5
p5 = panel((-100, 50), [-50, 0], ["-50", "0"], [-50, 0])
p5.add_layout(Span(location=0, dimension="width", line_color="#c98080", line_width=3))
p5.line(xs(DST), ys(DST), line_color="#ff44ff", line_width=1)

# panel 6
p6 = panel((0, 60), [20, 40], ["20", "40"], [20, 40])
p6.line(xs(DEN2), ys(DEN2), line_color="#22eeee", line_width=1.3)
p6.line(xs(DEN1), ys(DEN1), line_color="#00e8e8", line_width=1.3)

# panel 7
p7 = panel((1.1e5, 4.8e7), [1e6, 1e7], ["10\u2076", "10\u2077"], [1e6, 1e7], log=True, rt=True)
p7.add_layout(Span(location=1e6, dimension="width", line_color="#cc1111", line_width=1.3))
p7.add_layout(Span(location=1e7, dimension="width", line_color="#cc1111", line_width=1.3))
p7.line(xs(ELEC), ys(ELEC), line_color="#9933cc", line_width=1.2)

# panel 8
p8 = panel((10, 9e4), [1e2, 1e3, 1e4], ["10\u00b2", "10\u00b3", "10\u2074"], [1e2, 1e3, 1e4], log=True, rt=True)
p8.add_layout(Span(location=1e4, dimension="width", line_color="#dd4444", line_width=1.5, line_dash="6 4"))
p8.line(xs(P8_BLUE), ys(P8_BLUE), line_color="#0000ff", line_width=1)
p8.line(xs(P8_RED), ys(P8_RED), line_color="#ff0000", line_width=1)

# panel 9
p9 = panel((0.1, 1.3e5), [1, 1e2, 1e4], ["10\u2070", "10\u00b2", "10\u2074"], [1, 1e2, 1e4], log=True, last=True)
p9.line(xs(P9_BLUE), ys(P9_BLUE), line_color="#0000ff", line_width=2, line_dash="2 1")

# date label row (year on the left, day names under each day)
mid = [i + 0.5 for i in range(len(DAY_LABELS))]
pl = base_fig((0, 1), False, 16)
pl.outline_line_color = None
pl.grid.visible = False
ay = pl.yaxis[0]
ay.ticker = FixedTicker(ticks=[0.5])
ay.major_label_overrides = {0.5: YEAR_LABEL}
style_axis(ay, "11px", 1)
pl.text(x=mid, y=[0.5] * len(mid), text=DAY_LABELS, text_align="center", text_baseline="middle",
        text_font=value(FONT), text_font_size=value("11px"), text_color="#222222")

layout = column(p1, p2, p3, p4, p5, p6, p7, p8, p9, pl, spacing=0)
open("out.html", "w").write(file_html(layout, INLINE))
